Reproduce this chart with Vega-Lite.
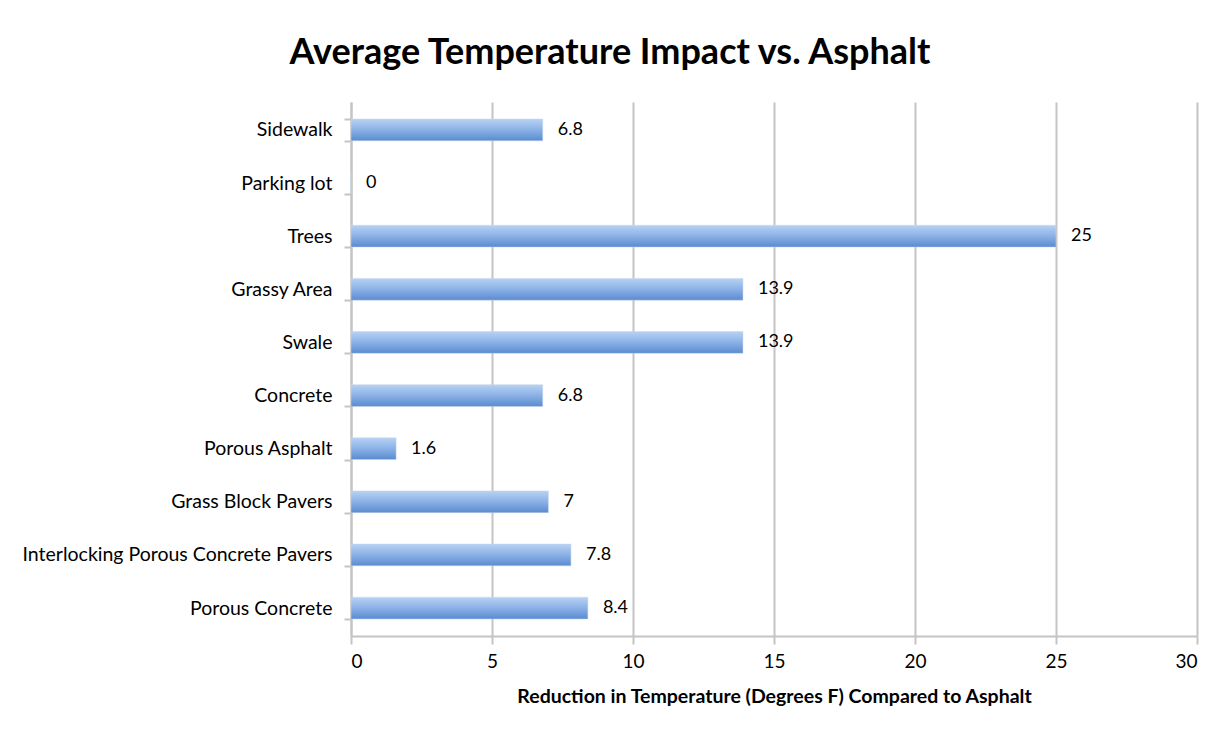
{
  "$schema": "https://vega.github.io/schema/vega-lite/v6.json",
  "width": 846,
  "height": 534,
  "autosize": {"type": "none"},
  "padding": {"left": 351, "top": 102, "right": 30, "bottom": 99},
  "background": "white",
  "title": {
    "text": "Average Temperature Impact vs. Asphalt",
    "font": "Lato",
    "fontSize": 36,
    "fontWeight": "bold",
    "color": "#000000",
    "anchor": "middle",
    "frame": "bounds",
    "offset": 20
  },
  "data": {
    "values": [
      {"category": "Sidewalk", "value": 6.8},
      {"category": "Parking lot", "value": 0},
      {"category": "Trees", "value": 25},
      {"category": "Grassy Area", "value": 13.9},
      {"category": "Swale", "value": 13.9},
      {"category": "Concrete", "value": 6.8},
      {"category": "Porous Asphalt", "value": 1.6},
      {"category": "Grass Block Pavers", "value": 7},
      {"category": "Interlocking Porous Concrete Pavers", "value": 7.8},
      {"category": "Porous Concrete", "value": 8.4}
    ]
  },
  "encoding": {
    "y": {
      "field": "category",
      "type": "nominal",
      "sort": null,
      "scale": {"paddingInner": 0.59, "paddingOuter": 0.32},
      "axis": {
        "title": null,
        "grid": false,
        "domain": true,
        "domainColor": "#c4c4c4",
        "domainWidth": 2,
        "ticks": true,
        "tickBand": "extent",
        "tickColor": "#c4c4c4",
        "tickWidth": 2,
        "tickSize": 7,
        "labelPadding": 12,
        "labelFont": "Lato",
        "labelFontSize": 19.5,
        "labelColor": "#000000",
        "labelLimit": 400
      }
    },
    "x": {
      "field": "value",
      "type": "quantitative",
      "scale": {"domain": [0, 30], "nice": false},
      "axis": {
        "title": "Reduction in Temperature (Degrees F) Compared to Asphalt",
        "titleFont": "Lato",
        "titleFontSize": 19.5,
        "titleFontWeight": "bold",
        "titleColor": "#000000",
        "titlePadding": 16,
        "values": [0, 5, 10, 15, 20, 25, 30],
        "grid": true,
        "gridColor": "#c4c4c4",
        "gridWidth": 2,
        "domain": true,
        "domainColor": "#c4c4c4",
        "domainWidth": 2,
        "tickColor": "#c4c4c4",
        "tickWidth": 2,
        "tickSize": 8,
        "labelPadding": 8,
        "labelFont": "Lato",
        "labelFontSize": 19,
        "labelColor": "#000000"
      }
    }
  },
  "layer": [
    {
      "mark": {
        "type": "bar",
        "color": {
          "gradient": "linear",
          "x1": 0, "y1": 0, "x2": 0, "y2": 1,
          "stops": [
            {"offset": 0, "color": "#b7d2f3"},
            {"offset": 0.5, "color": "#8ab1e6"},
            {"offset": 1, "color": "#5a8bd0"}
          ]
        },
        "stroke": "#c9d7ea",
        "strokeWidth": 0.5
      }
    },
    {
      "mark": {
        "type": "text",
        "align": "left",
        "dx": 15,
        "font": "Lato",
        "fontSize": 18,
        "color": "#000000"
      },
      "encoding": {"text": {"field": "value", "type": "quantitative"}}
    }
  ],
  "config": {"view": {"stroke": null}}
}
